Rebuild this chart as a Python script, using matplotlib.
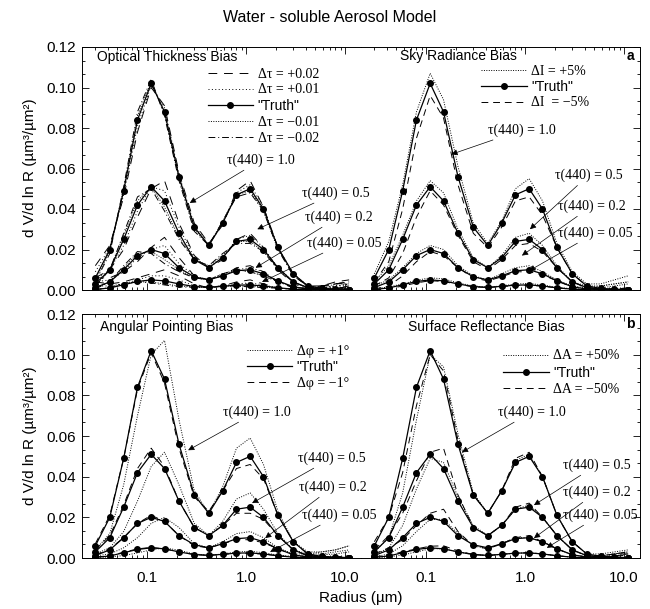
import numpy as np
import matplotlib
matplotlib.use("Agg")
import matplotlib.pyplot as plt
from matplotlib.ticker import MultipleLocator, AutoMinorLocator, LogLocator, FixedLocator, FixedFormatter, NullFormatter
from matplotlib.lines import Line2D

plt.rcParams["font.family"] = ["Liberation Sans", "DejaVu Sans"]
SERIF = ["Liberation Serif", "DejaVu Serif"]

# Radius grid (um) and optical depths
radius = [0.030, 0.042, 0.058, 0.080, 0.11, 0.15, 0.21, 0.30, 0.42, 0.58,
          0.80, 1.1, 1.5, 2.1, 3.0, 4.2, 5.8, 8.0, 11.0]
tau_labels = ["1.0", "0.5", "0.2", "0.05"]

# "Truth" size distributions, one row per tau(440)
truth = [
    [0.006, 0.020, 0.049, 0.084, 0.102, 0.088, 0.056, 0.031, 0.022, 0.033, 0.047, 0.050, 0.040, 0.021, 0.008, 0.002, 0.0008, 0.0004, 0.0002],
    [0.003, 0.010, 0.025, 0.042, 0.051, 0.044, 0.028, 0.015, 0.011, 0.016, 0.024, 0.025, 0.020, 0.011, 0.004, 0.0012, 0.0005, 0.0002, 0.0001],
    [0.0012, 0.004, 0.010, 0.017, 0.020, 0.018, 0.011, 0.0065, 0.005, 0.007, 0.0095, 0.010, 0.008, 0.0045, 0.0016, 0.0005, 0.0002, 0.0001, 0.0],
    [0.0003, 0.001, 0.0026, 0.0042, 0.005, 0.0045, 0.003, 0.0017, 0.0013, 0.0018, 0.0024, 0.0025, 0.002, 0.0011, 0.0004, 0.0001, 0.0, 0.0, 0.0],
]

# Optical thickness bias
opt_p02 = [
    [0.012, 0.022, 0.046, 0.078, 0.100, 0.091, 0.058, 0.033, 0.023, 0.032, 0.049, 0.054, 0.041, 0.021, 0.007, 0.002, 0.002, 0.004, 0.005],
    [0.006, 0.010, 0.020, 0.036, 0.050, 0.054, 0.033, 0.017, 0.011, 0.015, 0.025, 0.028, 0.021, 0.010, 0.003, 0.001, 0.002, 0.003, 0.004],
    [0.006, 0.006, 0.009, 0.014, 0.021, 0.026, 0.016, 0.007, 0.005, 0.007, 0.011, 0.012, 0.009, 0.004, 0.001, 0.001, 0.002, 0.003, 0.004],
    [0.004, 0.003, 0.004, 0.006, 0.008, 0.010, 0.007, 0.003, 0.001, 0.002, 0.004, 0.005, 0.003, 0.001, 0.0, 0.001, 0.002, 0.003, 0.004],
]
opt_p01 = [
    [0.009, 0.021, 0.047, 0.081, 0.101, 0.090, 0.057, 0.032, 0.022, 0.033, 0.048, 0.052, 0.041, 0.021, 0.008, 0.002, 0.001, 0.003, 0.003],
    [0.005, 0.010, 0.022, 0.039, 0.051, 0.049, 0.031, 0.016, 0.011, 0.016, 0.025, 0.027, 0.021, 0.011, 0.004, 0.001, 0.001, 0.002, 0.003],
    [0.004, 0.005, 0.009, 0.016, 0.020, 0.022, 0.013, 0.007, 0.005, 0.007, 0.010, 0.011, 0.009, 0.004, 0.0015, 0.0005, 0.001, 0.002, 0.003],
    [0.002, 0.002, 0.003, 0.005, 0.007, 0.007, 0.005, 0.002, 0.0012, 0.002, 0.003, 0.0035, 0.0025, 0.001, 0.0003, 0.0005, 0.001, 0.002, 0.002],
]
opt_m01 = [
    [0.005, 0.019, 0.050, 0.086, 0.103, 0.087, 0.055, 0.030, 0.022, 0.034, 0.047, 0.049, 0.039, 0.020, 0.008, 0.002, 0.001, 0.001, 0.001],
    [0.002, 0.010, 0.027, 0.044, 0.051, 0.041, 0.026, 0.015, 0.012, 0.017, 0.024, 0.024, 0.019, 0.011, 0.004, 0.001, 0.0005, 0.001, 0.001],
    [0.001, 0.004, 0.011, 0.018, 0.019, 0.015, 0.010, 0.006, 0.005, 0.008, 0.010, 0.009, 0.007, 0.0045, 0.0015, 0.0005, 0.0, 0.0005, 0.001],
    [0.0002, 0.001, 0.003, 0.004, 0.004, 0.003, 0.002, 0.0015, 0.0014, 0.002, 0.002, 0.0018, 0.0015, 0.001, 0.0004, 0.0001, 0.0, 0.0, 0.0005],
]
opt_m02 = [
    [0.004, 0.018, 0.051, 0.088, 0.104, 0.086, 0.054, 0.029, 0.022, 0.034, 0.046, 0.048, 0.039, 0.020, 0.007, 0.002, 0.0005, 0.0005, 0.002],
    [0.002, 0.010, 0.028, 0.046, 0.050, 0.039, 0.025, 0.015, 0.012, 0.018, 0.023, 0.023, 0.019, 0.010, 0.004, 0.001, 0.0005, 0.0005, 0.002],
    [0.0005, 0.004, 0.012, 0.019, 0.018, 0.013, 0.009, 0.006, 0.005, 0.008, 0.010, 0.009, 0.007, 0.004, 0.0015, 0.0005, 0.0, 0.0005, 0.002],
    [0.0001, 0.0012, 0.0035, 0.004, 0.0035, 0.0025, 0.0015, 0.0013, 0.0015, 0.002, 0.002, 0.0015, 0.0012, 0.0009, 0.0004, 0.0001, 0.0, 0.0, 0.001],
]

# Sky radiance bias
sky_p5 = [
    [0.008, 0.024, 0.052, 0.088, 0.107, 0.094, 0.061, 0.033, 0.023, 0.034, 0.050, 0.055, 0.044, 0.023, 0.009, 0.003, 0.003, 0.005, 0.007],
    [0.004, 0.012, 0.027, 0.044, 0.054, 0.048, 0.030, 0.016, 0.011, 0.017, 0.026, 0.028, 0.022, 0.012, 0.004, 0.002, 0.002, 0.003, 0.004],
    [0.002, 0.005, 0.011, 0.018, 0.022, 0.020, 0.012, 0.007, 0.005, 0.008, 0.011, 0.012, 0.009, 0.005, 0.002, 0.001, 0.002, 0.003, 0.004],
    [0.0006, 0.0015, 0.003, 0.0048, 0.006, 0.0055, 0.0035, 0.002, 0.0014, 0.002, 0.003, 0.0032, 0.0025, 0.0013, 0.0006, 0.0005, 0.001, 0.002, 0.003],
]
sky_m5 = [
    [0.004, 0.014, 0.040, 0.075, 0.096, 0.085, 0.052, 0.028, 0.021, 0.031, 0.044, 0.046, 0.037, 0.021, 0.008, 0.002, 0.0005, 0.0005, 0.001],
    [0.002, 0.006, 0.018, 0.036, 0.049, 0.042, 0.027, 0.014, 0.010, 0.015, 0.022, 0.023, 0.019, 0.011, 0.004, 0.001, 0.0005, 0.0005, 0.001],
    [0.0005, 0.002, 0.007, 0.014, 0.019, 0.017, 0.011, 0.006, 0.0045, 0.0065, 0.009, 0.009, 0.0075, 0.0045, 0.0015, 0.0005, 0.0002, 0.0002, 0.0005],
    [0.0001, 0.0005, 0.002, 0.0035, 0.0046, 0.0042, 0.0028, 0.0016, 0.0012, 0.0017, 0.0022, 0.0023, 0.0019, 0.001, 0.0004, 0.0001, 0.0, 0.0, 0.0002],
]

# Angular pointing bias
ang_p1 = [
    [0.004, 0.012, 0.036, 0.070, 0.100, 0.107, 0.068, 0.033, 0.022, 0.035, 0.054, 0.059, 0.046, 0.023, 0.008, 0.003, 0.003, 0.004, 0.006],
    [0.002, 0.005, 0.013, 0.028, 0.045, 0.052, 0.036, 0.017, 0.011, 0.018, 0.029, 0.032, 0.024, 0.012, 0.004, 0.002, 0.002, 0.003, 0.004],
    [0.001, 0.002, 0.005, 0.010, 0.017, 0.020, 0.015, 0.007, 0.005, 0.008, 0.012, 0.013, 0.010, 0.005, 0.002, 0.002, 0.003, 0.004, 0.006],
    [0.0002, 0.0005, 0.0012, 0.0025, 0.004, 0.005, 0.0038, 0.002, 0.0013, 0.002, 0.003, 0.0033, 0.0026, 0.0014, 0.0008, 0.001, 0.0015, 0.002, 0.003],
]
ang_m1 = [
    [0.007, 0.021, 0.049, 0.083, 0.101, 0.086, 0.054, 0.030, 0.023, 0.033, 0.044, 0.046, 0.039, 0.021, 0.008, 0.002, 0.0005, 0.0005, 0.001],
    [0.004, 0.011, 0.026, 0.044, 0.054, 0.045, 0.028, 0.015, 0.011, 0.016, 0.022, 0.022, 0.019, 0.011, 0.004, 0.001, 0.0005, 0.0005, 0.001],
    [0.0015, 0.0045, 0.010, 0.017, 0.021, 0.018, 0.011, 0.006, 0.005, 0.007, 0.009, 0.009, 0.0075, 0.0045, 0.0015, 0.0005, 0.0002, 0.0002, 0.0005],
    [0.0004, 0.0012, 0.0028, 0.0045, 0.0052, 0.0045, 0.003, 0.0017, 0.0013, 0.0018, 0.0023, 0.0023, 0.0019, 0.0011, 0.0004, 0.0001, 0.0, 0.0, 0.0001],
]

# Surface reflectance bias
srf_p50 = [
    [0.003, 0.010, 0.032, 0.068, 0.100, 0.094, 0.061, 0.032, 0.022, 0.033, 0.048, 0.051, 0.040, 0.021, 0.008, 0.002, 0.002, 0.003, 0.004],
    [0.0015, 0.005, 0.016, 0.034, 0.049, 0.047, 0.030, 0.016, 0.011, 0.016, 0.024, 0.026, 0.020, 0.011, 0.004, 0.001, 0.001, 0.002, 0.003],
    [0.0005, 0.002, 0.006, 0.013, 0.019, 0.019, 0.012, 0.006, 0.0045, 0.007, 0.010, 0.010, 0.008, 0.0045, 0.0015, 0.0005, 0.001, 0.002, 0.003],
    [0.0001, 0.0005, 0.0015, 0.003, 0.0045, 0.0046, 0.003, 0.0017, 0.0012, 0.0018, 0.0024, 0.0025, 0.002, 0.0011, 0.0004, 0.0002, 0.0005, 0.001, 0.002],
]
srf_m50 = [
    [0.008, 0.020, 0.042, 0.075, 0.100, 0.092, 0.058, 0.031, 0.022, 0.033, 0.049, 0.052, 0.040, 0.021, 0.008, 0.002, 0.001, 0.002, 0.003],
    [0.004, 0.011, 0.022, 0.038, 0.052, 0.054, 0.031, 0.015, 0.011, 0.016, 0.025, 0.027, 0.020, 0.011, 0.004, 0.001, 0.001, 0.002, 0.002],
    [0.002, 0.005, 0.009, 0.016, 0.022, 0.024, 0.013, 0.006, 0.0045, 0.007, 0.010, 0.011, 0.008, 0.0045, 0.0015, 0.0005, 0.0005, 0.001, 0.002],
    [0.0006, 0.0015, 0.003, 0.0045, 0.0058, 0.006, 0.0035, 0.0017, 0.0012, 0.0018, 0.0025, 0.0026, 0.002, 0.0011, 0.0004, 0.0001, 0.0003, 0.0008, 0.0015],
]

# Line styles
LONGDASH = (0, (9, 7))
SPARSEDOT = (0, (1, 2.5))
DOT = (0, (1, 1.5))
DASHDOT = (0, (7, 3, 1, 3))
DASH = (0, (7, 5))

panels = [
    dict(title="Optical Thickness Bias", title_xy=(97, 57),
         biases=[(opt_p02, LONGDASH, "\u0394\u03c4 = +0.02"),
                 (opt_p01, SPARSEDOT, "\u0394\u03c4 = +0.01"),
                 None,
                 (opt_m01, DOT, "\u0394\u03c4 = \u22120.01"),
                 (opt_m02, DASHDOT, "\u0394\u03c4 = \u22120.02")],
         legend_xy=(0.45, 0.915), spacing=0.2,
         text_xy=[(227, 160), (302, 193), (305, 217), (307, 243)],
         tips=[(0.27, 0.043), (1.3, 0.030), (1.25, 0.011), (1.45, 0.004)]),
    dict(title="Sky Radiance Bias", title_xy=(400, 56),
         biases=[(sky_p5, DOT, "\u0394I = +5%"), None,
                 (sky_m5, DASH, "\u0394I  = \u22125%")],
         legend_xy=(0.43, 0.925), spacing=0.15,
         text_xy=[(488, 130), (555, 175), (558, 206), (558, 233)],
         tips=[(0.18, 0.067), (1.12, 0.030), (0.93, 0.017), (1.1, 0.0095)]),
    dict(title="Angular Pointing Bias", title_xy=(100, 327),
         biases=[(ang_p1, DOT, "\u0394\u03c6 = +1\u00b0"), None,
                 (ang_m1, DASH, "\u0394\u03c6 = \u22121\u00b0")],
         legend_xy=(0.59, 0.875), spacing=0.2,
         text_xy=[(223, 412), (298, 458), (299, 487), (302, 515)],
         tips=[(0.26, 0.053), (1.15, 0.027), (1.56, 0.0098), (1.75, 0.003)]),
    dict(title="Surface Reflectance Bias", title_xy=(408, 327),
         biases=[(srf_p50, DOT, "\u0394A = +50%"), None,
                 (srf_m50, DASH, "\u0394A = \u221250%")],
         legend_xy=(0.51, 0.855), spacing=0.25,
         text_xy=[(498, 412), (563, 465), (563, 492), (563, 515)],
         tips=[(0.23, 0.052), (1.23, 0.026), (1.23, 0.0098), (1.66, 0.005)]),
]

fig = plt.figure(figsize=(6.5, 6.09), dpi=100)
W, H = 650, 609
ax_tl = fig.add_axes([82 / W, (H - 290) / H, 279 / W, 243 / H])
ax_tr = fig.add_axes([361 / W, (H - 290) / H, 279 / W, 243 / H])
ax_bl = fig.add_axes([82 / W, (H - 558) / H, 279 / W, 244 / H])
ax_br = fig.add_axes([361 / W, (H - 558) / H, 279 / W, 244 / H])
axes = [ax_tl, ax_tr, ax_bl, ax_br]

for i, (ax, p) in enumerate(zip(axes, panels)):
    ax.patch.set_visible(False)
    handles, labels = [], []
    for b in p["biases"]:
        if b is None:
            for k in range(4):
                ax.plot(radius, truth[k], "-", color="black", lw=0.9,
                        marker="o", ms=4.0, zorder=5)
            handles.append(Line2D([], [], color="black", lw=0.9, marker="o", ms=4.0))
            labels.append('"Truth"')
            continue
        vals, ls, lab = b
        for k in range(4):
            ax.plot(radius, vals[k], color="black", lw=0.7, linestyle=ls, zorder=3)
        handles.append(Line2D([], [], color="black", lw=0.7, linestyle=ls))
        labels.append(lab)

    leg = ax.legend(handles, labels, loc="upper left", bbox_to_anchor=p["legend_xy"],
                    frameon=False, numpoints=1, handlelength=3.3, handletextpad=0.3,
                    labelspacing=p["spacing"], borderpad=0, borderaxespad=0,
                    prop={"family": SERIF, "size": 10})
    for t in leg.get_texts():
        if t.get_text() == '"Truth"':
            t.set_fontfamily(["Liberation Sans", "DejaVu Sans"])

    fig.text(p["title_xy"][0] / W, 1 - p["title_xy"][1] / H, p["title"],
             fontsize=10, ha="left", va="center")

    for k in range(4):
        tx, ty = p["text_xy"][k]
        ax.annotate("\u03c4(440) = " + tau_labels[k], xy=p["tips"][k], xycoords="data",
                    xytext=(tx, H - ty), textcoords="figure pixels",
                    ha="left", va="center", fontsize=10, family=SERIF,
                    annotation_clip=False, zorder=6,
                    arrowprops=dict(arrowstyle="-|>", lw=0.5, color="black",
                                    mutation_scale=9, shrinkA=1, shrinkB=0))

    ax.set_xscale("log")
    ax.set_xlim(0.022, 14.5)
    ax.set_ylim(0, 0.12)
    ax.xaxis.set_major_locator(FixedLocator([0.1, 1.0, 10.0]))
    ax.xaxis.set_minor_locator(LogLocator(base=10, subs=np.arange(2, 10)))
    ax.xaxis.set_minor_formatter(NullFormatter())
    if i >= 2:
        ax.xaxis.set_major_formatter(FixedFormatter(["0.1", "1.0", "10.0"]))
    else:
        ax.xaxis.set_major_formatter(NullFormatter())
    ax.yaxis.set_major_locator(MultipleLocator(0.02))
    ax.yaxis.set_minor_locator(AutoMinorLocator(3))
    ax.yaxis.set_major_formatter(plt.FormatStrFormatter("%.2f"))
    ax.tick_params(which="both", direction="in", top=True, right=True,
                   labelsize=11, width=0.6)
    ax.tick_params(axis="y", pad=4)
    ax.tick_params(axis="x", pad=9)
    ax.tick_params(which="major", length=5)
    ax.tick_params(which="minor", length=2.5)
    for s in ax.spines.values():
        s.set_linewidth(0.7)
    if i % 2 == 0:
        ax.spines["right"].set_visible(False)
        ax.tick_params(which="both", right=False)
    else:
        ax.spines["left"].set_visible(False)
        ax.tick_params(which="both", left=False, labelleft=False)

fig.text(630 / W, 1 - 56 / H, "a", fontsize=10, fontweight="bold", ha="center", va="center")
fig.text(630 / W, 1 - 324 / H, "b", fontsize=10, fontweight="bold", ha="center", va="center")

fig.text(330 / W, 1 - 18 / H, "Water - soluble Aerosol Model", fontsize=11.5,
         ha="center", va="center")
fig.text(361 / W, 1 - 598 / H, "Radius (\u00b5m)", fontsize=11, ha="center", va="center")
for yc in (168, 436):
    fig.text(30 / W, 1 - yc / H, "d V/d ln R (\u00b5m\u00b3/\u00b5m\u00b2)", fontsize=11,
             rotation=90, ha="center", va="center")

fig.savefig("out.png", dpi=100, facecolor="white")
